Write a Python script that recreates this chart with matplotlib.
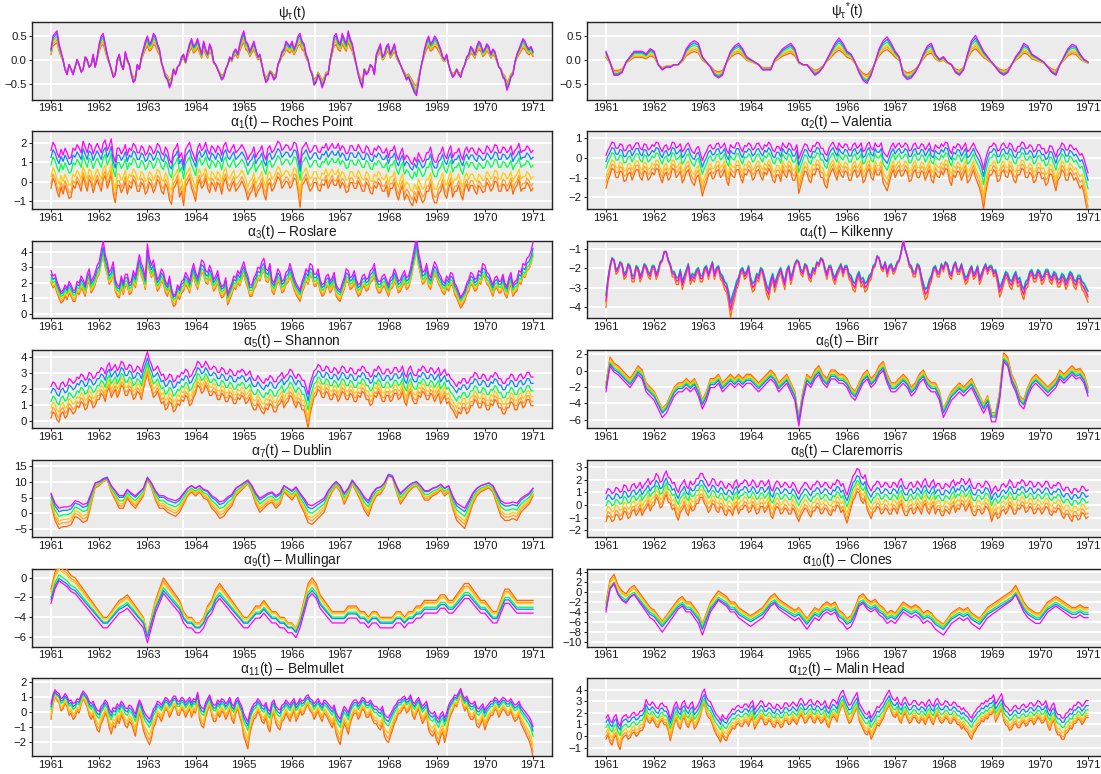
import numpy as np
import matplotlib
matplotlib.use("Agg")
import matplotlib.pyplot as plt

plt.rcParams['font.family'] = ['Liberation Sans', 'DejaVu Sans']
plt.rcParams['mathtext.fontset'] = 'custom'
plt.rcParams['mathtext.rm'] = 'Liberation Sans'
plt.rcParams['mathtext.it'] = 'Liberation Sans'
plt.rcParams['mathtext.default'] = 'regular'

# ---------------- data: values from Jan 1961 to Jan 1971 ----------------
# (half-monthly values for the noisy panels, monthly for the smooth ones)
year_labels = [1961, 1962, 1963, 1964, 1965, 1966, 1967, 1968, 1969, 1970, 1971]
line_colors = ['#FF6600', '#FF9F2E', '#FFCC00', '#00FF4C', '#0A84FF', '#FF00FF']

psi_base = [0.2,0.45,0.5,0.55,0.3,0.15,0.0,-0.2,-0.3,-0.1,-0.2,-0.3,-0.15,0.0,-0.1,-0.25,-0.2,0.05,0.0,-0.15,-0.1,0.1,-0.15,0.05,
            0.3,0.45,0.5,0.3,0.1,-0.05,-0.2,-0.35,-0.3,0.0,0.1,-0.1,-0.2,0.15,0.0,-0.1,-0.3,-0.45,-0.4,-0.1,-0.2,0.05,0.2,0.35,
            0.45,0.3,0.35,0.5,0.45,0.3,0.2,-0.05,-0.2,-0.35,-0.4,-0.55,-0.45,-0.2,-0.3,-0.15,-0.1,0.05,0.1,-0.05,0.15,0.3,0.4,0.25,
            0.3,0.4,0.25,0.1,0.35,0.2,0.1,0.3,0.2,-0.05,-0.1,-0.2,-0.3,-0.4,-0.35,-0.2,-0.1,0.05,0.0,0.15,0.2,0.1,0.3,0.45,
            0.55,0.35,0.3,0.15,0.25,0.35,0.2,0.05,0.1,-0.1,-0.3,-0.45,-0.4,-0.25,-0.3,-0.4,-0.35,-0.1,0.0,0.15,0.2,0.35,0.3,0.25,
            0.35,0.2,0.3,0.45,0.5,0.35,0.3,0.1,0.0,-0.2,-0.3,-0.5,-0.45,-0.3,-0.4,-0.55,-0.45,-0.3,-0.3,0.0,0.2,0.45,0.5,0.35,
            0.3,0.5,0.4,0.3,0.55,0.4,0.3,0.1,-0.1,-0.3,-0.45,-0.55,-0.2,-0.3,-0.25,-0.1,-0.15,-0.3,0.1,0.2,0.3,0.05,0.1,0.25,
            0.3,0.1,0.2,0.3,0.1,0.0,-0.1,-0.2,-0.3,-0.4,-0.35,-0.45,-0.55,-0.65,-0.7,-0.45,-0.2,0.0,0.2,0.35,0.45,0.3,0.35,0.45,
            0.4,0.3,0.2,0.05,0.0,0.1,-0.1,-0.25,-0.35,-0.3,-0.2,-0.3,-0.35,-0.2,-0.1,0.05,0.1,0.25,0.2,0.1,0.25,0.35,0.3,0.15,
            0.2,0.3,0.25,0.1,0.2,0.15,0.0,-0.15,-0.2,-0.35,-0.4,-0.6,-0.5,-0.35,-0.3,-0.05,0.1,0.2,0.3,0.4,0.35,0.25,0.2,0.25,
            0.15]
psi_level = [-0.03, -0.02, -0.01, 0.0, 0.01, 0.02]
psi_gain = [0.72, 0.8, 0.86, 0.92, 1.0, 1.07]

psis_base = [0.15,-0.05,-0.3,-0.3,-0.25,-0.05,0.05,0.15,0.15,0.15,0.1,0.2,
             0.15,-0.1,-0.2,-0.15,-0.15,-0.1,-0.1,0.0,0.2,0.3,0.35,0.3,
             0.05,-0.05,-0.15,-0.3,-0.35,-0.3,-0.05,0.15,0.25,0.3,0.2,0.05,
             0.0,-0.05,-0.1,-0.2,-0.2,-0.2,0.0,0.1,0.2,0.25,0.3,0.2,
             -0.05,-0.1,-0.1,-0.2,-0.3,-0.25,-0.15,0.0,0.15,0.3,0.4,0.3,
             0.15,0.1,-0.05,-0.25,-0.4,-0.45,-0.3,-0.05,0.2,0.35,0.42,0.3,
             0.15,0.05,-0.3,-0.38,-0.35,-0.25,-0.1,0.1,0.25,0.3,0.1,0.0,
             0.05,-0.05,-0.1,-0.25,-0.3,-0.2,0.1,0.35,0.45,0.3,0.15,0.05,
             -0.05,-0.15,-0.25,-0.3,-0.25,-0.1,0.05,0.15,0.3,0.25,0.1,0.05,
             0.0,-0.05,-0.15,-0.25,-0.3,-0.1,0.05,0.2,0.28,0.25,0.1,0.0,
             -0.05]
psis_level = [-0.03, -0.02, -0.02, 0.0, 0.01, 0.02]
psis_gain = [0.6, 0.7, 0.8, 0.9, 1.0, 1.1]

a1_base = [0.0,0.35,0.2,-0.1,-0.3,0.05,-0.2,0.1,-0.1,-0.35,-0.3,0.1,0.0,0.25,0.1,-0.1,0.4,0.15,-0.1,0.3,0.2,-0.15,0.1,0.3,
           0.1,-0.1,0.3,0.45,0.0,0.2,0.5,-0.2,-0.5,0.1,0.1,-0.15,0.0,0.25,-0.2,0.1,0.0,0.3,0.2,-0.1,-0.1,0.2,0.1,-0.2,
           -0.1,0.2,0.1,-0.15,0.0,0.3,0.2,-0.1,-0.2,0.15,0.0,-0.4,-0.55,0.0,0.1,0.3,-0.3,-0.1,-0.6,0.05,0.2,0.35,0.0,-0.2,
           -0.45,0.1,0.3,0.0,0.1,0.35,0.0,-0.15,0.2,0.1,-0.1,0.2,0.1,-0.2,0.2,0.35,0.0,-0.1,0.1,0.25,-0.1,0.0,0.1,0.25,
           0.1,-0.1,-0.4,-0.2,-0.1,0.15,-0.3,-0.1,0.0,0.2,-0.2,-0.4,0.1,0.2,-0.1,0.0,0.2,0.4,0.3,0.0,0.1,0.25,0.2,0.0,
           0.1,0.35,0.3,-0.1,-0.65,0.1,0.2,0.35,0.1,-0.1,0.0,0.2,0.2,-0.05,-0.1,0.15,0.1,0.3,0.0,0.15,0.3,0.1,0.1,0.3,
           0.0,0.2,0.1,-0.15,-0.1,0.2,0.2,0.0,0.0,0.25,0.1,-0.1,-0.1,0.2,0.1,-0.15,-0.2,0.1,0.0,0.2,0.1,-0.1,-0.1,0.1,
           -0.3,0.0,0.0,0.2,-0.2,-0.4,-0.1,0.1,-0.4,-0.2,-0.3,-0.5,-0.6,-0.3,-0.5,-0.1,-0.3,-0.5,-0.4,-0.1,-0.1,0.15,-0.3,-0.5,
           -0.5,-0.2,-0.1,0.15,-0.2,-0.35,0.0,0.2,-0.3,-0.1,-0.1,0.1,-0.2,-0.4,0.0,0.15,-0.1,0.1,0.1,-0.1,-0.2,0.1,0.0,-0.15,
           -0.1,0.2,0.1,-0.1,0.0,0.25,0.2,-0.1,-0.1,0.15,0.1,-0.1,0.0,0.2,-0.2,0.0,0.1,0.3,-0.1,0.0,0.0,0.2,0.1,-0.1,
           0.0]
a1_level = [-0.35, -0.1, 0.25, 0.85, 1.25, 1.6]
a1_gain = [1.5, 1.4, 1.3, 1.2, 1.1, 1.2]

a2_base = [-0.4,-0.1,0.1,0.35,0.3,0.0,0.0,0.25,0.2,-0.15,-0.1,0.15,0.2,-0.1,0.1,0.3,0.3,0.0,-0.1,0.25,0.2,-0.1,0.0,0.2,
           0.1,0.35,0.3,0.0,-0.2,0.1,0.2,-0.1,0.0,0.35,0.3,0.0,0.1,0.25,-0.2,-0.05,0.2,0.3,0.0,-0.2,-0.3,0.0,0.1,-0.3,
           -0.7,-0.4,-0.2,0.1,0.2,-0.05,0.0,0.25,0.3,0.0,0.1,0.3,-0.1,-0.3,0.2,0.05,0.0,0.3,0.3,0.0,-0.2,0.15,0.1,0.3,
           0.2,-0.1,0.0,0.25,0.3,0.05,-0.1,0.2,0.1,0.35,0.2,-0.1,-0.2,0.1,0.1,-0.15,0.3,0.1,0.0,0.3,0.2,-0.1,-0.1,0.2,
           -0.6,-0.3,0.0,0.25,0.2,-0.1,-0.2,0.15,0.1,0.35,0.3,0.0,0.0,-0.3,-0.4,0.0,0.2,0.35,0.1,-0.1,0.3,0.1,0.0,0.25,
           0.2,-0.1,-0.1,0.2,0.3,0.0,0.1,0.3,-0.2,-0.1,0.2,0.35,0.0,-0.1,0.3,0.1,0.1,0.3,-0.2,-0.35,-0.5,-0.2,0.1,0.3,
           0.0,0.2,0.3,0.05,0.1,0.3,0.2,-0.15,-0.1,0.2,0.3,0.0,0.0,0.25,0.2,-0.1,0.1,0.3,-0.1,-0.2,0.2,0.05,0.0,0.25,
           0.1,0.35,0.3,-0.1,-0.3,0.1,0.0,0.25,0.2,-0.1,0.1,0.3,-0.2,-0.1,0.1,0.3,0.0,-0.2,-0.4,-0.7,-1.2,-0.6,-0.2,0.1,
           0.1,0.3,0.2,-0.15,-0.1,0.2,0.3,0.05,0.0,0.3,0.2,-0.1,-0.2,0.1,0.1,0.35,0.3,0.0,0.0,0.2,0.1,-0.2,-0.1,0.2,
           0.2,-0.05,0.0,-0.3,-0.2,0.15,0.1,-0.2,-0.5,-0.1,0.0,0.3,0.2,-0.1,-0.1,0.2,0.1,-0.1,0.0,-0.2,-0.4,-0.3,-0.6,-1.0,
           -1.4]
a2_level = [-1.0, -0.75, -0.5, -0.1, 0.2, 0.5]
a2_gain = [1.35, 1.25, 1.15, 1.05, 0.95, 0.9]

a3_base = [0.5,0.2,0.3,-0.1,-0.4,-0.7,-0.6,-0.3,-0.5,-0.1,-0.3,-0.6,-0.6,-0.1,-0.2,0.2,0.0,-0.3,0.3,0.6,-0.1,0.1,0.4,0.8,
           1.0,1.6,2.2,1.4,1.0,0.4,0.6,1.0,0.0,-0.3,-0.4,0.2,-0.2,0.3,0.3,-0.2,-0.1,0.5,0.2,0.8,1.4,0.9,0.6,0.1,
           2.0,1.2,0.8,1.1,0.5,0.0,0.2,0.6,0.4,-0.1,-0.3,0.2,-0.5,-0.9,-0.8,-0.3,-0.5,-0.1,0.0,0.4,0.2,-0.1,0.5,0.9,
           0.4,0.1,0.6,1.1,1.0,0.5,0.4,0.8,0.5,0.0,0.2,0.5,-0.1,-0.4,-0.3,0.1,-0.8,-0.5,-0.2,0.2,0.1,0.5,0.3,0.7,
           1.0,0.5,0.2,-0.3,-0.3,0.1,0.3,0.7,0.6,1.0,1.2,0.6,0.5,0.9,0.0,-0.2,0.2,0.6,0.4,-0.1,0.0,0.4,0.5,0.9,
           0.5,0.1,-0.2,-0.4,-0.6,-0.1,0.2,0.6,0.4,0.9,0.8,0.3,0.3,0.6,0.0,-0.3,-0.2,0.2,0.3,-0.1,0.1,0.4,-0.3,-0.5,
           -0.6,-0.2,0.1,0.6,0.5,0.1,0.2,0.5,0.0,-0.3,-0.2,0.2,0.3,0.0,0.1,0.5,0.6,0.9,0.2,-0.1,-0.1,0.2,0.3,0.0,
           -0.3,0.1,0.2,0.6,0.3,-0.1,0.0,0.3,0.5,0.1,0.2,0.6,1.2,1.8,2.5,1.5,1.0,0.4,0.5,0.9,0.3,0.1,0.6,1.0,
           0.8,0.4,0.2,-0.1,-0.2,0.2,0.0,0.4,0.3,-0.2,-0.4,-0.7,-1.0,-0.8,-0.6,-0.2,0.0,0.4,0.3,0.0,0.1,0.5,0.4,0.9,
           0.8,0.4,0.3,0.0,-0.3,0.1,0.2,-0.1,-0.1,0.3,-0.2,-0.4,0.1,0.4,-0.3,-0.1,0.0,0.5,0.4,0.9,0.8,1.2,1.3,1.6,
           2.1]
a3_level = [1.45, 1.55, 1.65, 1.8, 2.0, 2.2]
a3_gain = [1.1, 1.05, 1.0, 1.0, 1.05, 1.15]

a4_base = [-1.2,-0.3,0.3,0.7,0.6,0.1,0.2,0.5,0.4,-0.1,0.0,0.4,0.3,-0.2,-0.2,0.3,0.2,-0.2,0.0,0.4,0.3,0.0,-0.1,0.3,
           0.3,-0.1,0.1,0.5,0.6,1.0,1.0,0.6,0.4,0.0,0.0,-0.3,-0.3,0.1,-0.5,-0.2,0.1,0.4,-0.3,-0.1,-0.2,0.1,0.2,-0.2,
           -0.2,0.2,0.3,-0.1,0.2,0.5,-0.1,0.2,0.3,-0.1,-0.2,-0.5,-0.6,-1.0,-1.6,-1.2,-0.9,-0.5,-0.3,0.1,0.2,-0.1,0.0,0.3,
           -0.3,-0.6,-0.5,-0.1,-0.2,0.2,0.1,-0.3,-0.7,-0.9,-0.4,-0.1,-0.6,-0.3,0.0,0.2,-0.2,-0.5,0.1,0.3,-0.3,0.0,0.4,0.6,
           0.5,0.1,0.0,0.4,0.3,-0.1,-0.2,0.2,0.1,0.5,0.4,0.7,0.6,0.2,-0.1,0.3,0.3,-0.1,-0.3,0.0,0.2,0.4,0.0,0.3,
           0.3,-0.1,-0.2,-0.5,-0.6,-0.2,0.0,-0.4,-0.3,-0.6,-0.5,-0.2,-0.1,0.3,0.4,0.8,0.7,0.3,0.2,0.5,0.0,0.3,0.4,0.1,
           0.2,0.5,0.6,1.0,1.5,1.1,0.8,0.4,0.3,0.0,0.0,0.4,0.3,-0.2,-0.6,-0.9,-0.8,-0.4,-0.2,0.2,0.3,0.0,0.0,0.4,
           0.2,0.5,0.4,0.0,-0.1,0.3,0.5,0.1,0.1,0.4,0.0,-0.3,-0.2,0.1,0.3,-0.1,0.0,0.3,-0.3,-0.1,0.2,0.4,0.1,0.3,
           0.3,0.0,0.1,-0.3,-0.8,-0.6,-0.3,0.0,-0.1,-0.4,-0.5,-0.2,0.0,-0.4,-0.3,-0.7,-0.9,-0.5,-0.4,0.0,0.1,-0.2,-0.2,0.1,
           0.0,-0.3,-0.2,0.1,0.1,-0.2,-0.3,0.0,-0.1,-0.4,-0.4,-0.1,-0.2,-0.5,-0.3,0.0,-0.1,-0.4,-0.5,-0.2,-0.2,-0.5,-0.6,-0.8,
           -1.0]
a4_level = [-2.45, -2.35, -2.25, -2.15, -2.2, -2.3]
a4_gain = [1.3, 1.2, 1.1, 1.0, 1.0, 1.15]

a5_base = [-0.8,-0.5,-0.6,-0.9,-1.0,-0.6,-0.5,-0.8,-0.7,-0.3,-0.4,-0.6,-0.5,-0.2,-0.3,0.0,-0.1,-0.4,-0.3,0.1,0.0,-0.3,-0.2,0.1,
           0.1,0.4,0.3,0.0,0.5,0.7,0.2,0.4,0.6,0.2,0.4,0.8,0.7,0.3,0.3,0.6,0.5,0.1,0.2,0.5,0.4,0.1,0.6,1.0,
           1.4,0.9,0.6,0.2,0.3,0.5,0.2,-0.1,0.0,-0.4,-0.3,0.0,-0.1,-0.5,-0.4,-0.1,-0.2,0.1,0.0,0.3,0.2,-0.2,-0.1,0.2,
           0.4,0.8,0.7,0.4,0.5,0.8,0.6,0.3,0.3,0.5,0.4,0.1,0.1,0.4,0.3,0.0,0.0,0.3,0.2,-0.1,-0.1,0.2,0.1,0.3,
           0.2,-0.1,0.0,0.2,-0.2,-0.4,-0.4,-0.1,-0.3,-0.5,-0.6,-0.3,-0.4,-0.1,-0.2,-0.5,-0.5,-0.2,-0.1,0.1,-0.3,-0.1,0.0,0.3,
           0.2,-0.1,-0.3,0.0,-0.1,-0.4,-0.4,-0.8,-1.3,-0.6,-0.2,0.2,0.3,0.6,0.5,0.2,0.2,0.5,0.4,0.1,0.1,0.4,0.3,0.0,
           0.2,0.5,0.4,0.1,0.1,0.4,0.3,0.0,0.0,0.3,0.2,0.5,0.4,0.1,0.1,-0.2,-0.1,0.3,0.2,0.5,0.3,0.0,0.0,0.3,
           0.3,0.0,0.1,0.4,0.4,0.1,0.2,0.5,0.0,-0.2,0.3,0.5,0.1,-0.1,-0.1,0.3,0.2,0.5,0.4,0.1,0.1,0.4,0.3,0.0,
           0.2,0.4,-0.1,0.1,0.3,-0.1,0.0,-0.3,-0.4,-0.6,-0.8,-0.5,-0.6,-0.3,-0.3,-0.6,-0.5,-0.2,-0.2,0.1,0.0,-0.3,-0.3,0.0,
           -0.1,-0.4,-0.4,-0.1,-0.2,0.1,0.0,-0.3,-0.3,-0.6,-0.6,-0.3,-0.3,0.0,-0.1,-0.4,-0.4,-0.1,0.0,-0.3,-0.2,0.1,0.1,-0.2,
           -0.2]
a5_level = [1.2, 1.45, 1.75, 2.1, 2.55, 2.95]
a5_gain = [1.3, 1.25, 1.2, 1.1, 1.0, 1.0]

a6_base = [-2.0,1.0,0.3,0.0,-0.5,-1.0,-1.5,-0.8,0.0,-0.5,-2.0,-2.5,
           -3.0,-4.0,-5.0,-4.5,-3.5,-2.5,-2.0,-2.0,-1.5,-2.0,-1.5,-2.5,
           -4.0,-3.0,-1.5,-1.5,-1.0,-2.0,-1.5,-1.0,-1.5,-1.0,-1.5,-1.0,
           -1.0,-1.5,-2.0,-1.5,-1.0,-0.5,-1.0,-2.0,-1.5,-1.0,-2.0,-3.0,
           -6.0,-3.0,-1.0,-1.5,-0.5,0.0,-1.0,-1.5,-0.5,-0.5,-1.0,-1.0,
           -1.5,-2.5,-3.0,-2.0,-1.0,-0.5,-1.5,-1.0,0.0,0.5,-1.0,-2.0,
           -2.0,-1.5,-1.0,-1.5,-2.5,-2.0,-1.0,-0.5,-1.5,-2.0,-2.0,-3.0,
           -5.0,-4.0,-3.0,-2.5,-2.0,-2.5,-2.0,-1.5,-2.5,-3.5,-4.5,-3.5,
           -5.5,-5.5,-3.0,1.5,1.0,-1.0,-2.0,-3.5,-4.0,-2.5,-1.5,-1.0,
           -1.5,-2.0,-2.5,-2.0,-1.5,-0.5,-1.0,-0.5,0.0,-0.5,-0.3,-1.0,
           -2.5]
a6_level = [0.6, 0.4, 0.2, 0.0, -0.2, -0.5]
a6_gain = [1.05, 1.03, 1.0, 1.0, 1.0, 1.05]

a7_base = [5,1,-1,-0.5,-0.5,0,2,1.5,0.5,1,5,9,
           9.5,10.5,11,8,6,4,4,6.5,5,4,5.5,7,
           11,9,6,4,4,3,2.5,2,3,5,7,8,
           7,8,6.5,6,4,3,1.5,2,3.5,4.5,7,8,
           9,10,8,5,3,4,5,5.5,4,5,8,7,
           6,7.5,5,3,0.5,0,1,2,3,6,8,9.5,
           8,5,7,10,8,6,3.5,2,5,7,7.5,9,
           12,11.5,8,5,6.5,8,9,9.5,8,6,6,7,
           7.5,8.5,7,8,4,1,0,-1,2,5,7,8,
           8.5,9,8,5,2,1,1,1.5,1,3,4,5,
           7]
a7_level = [-3.6, -2.4, -1.4, 0.0, 1.4, 2.4]
a7_gain = [1.3, 1.2, 1.12, 1.0, 0.92, 0.8]

a8_base = [-0.6,-0.2,-0.3,-0.6,-0.5,-0.1,-0.2,-0.5,-0.4,0.1,0.0,-0.4,-0.3,0.1,0.2,-0.2,0.0,0.3,-0.2,0.1,0.3,0.6,0.1,0.4,
           0.5,1.0,0.8,0.3,0.4,0.9,1.2,0.7,0.6,0.2,0.3,-0.2,-0.5,0.0,0.2,0.5,0.0,-0.2,0.4,0.1,0.2,0.6,0.6,1.0,
           1.0,0.6,0.4,0.0,0.2,0.6,0.5,0.1,0.0,0.4,0.3,-0.1,-0.2,0.2,0.1,-0.2,0.3,0.5,-0.1,0.2,0.2,0.5,0.4,0.0,
           0.1,0.5,0.3,-0.1,0.0,0.4,0.4,0.0,0.2,0.5,-0.2,-0.4,0.1,0.4,0.3,-0.1,0.0,0.3,0.2,-0.1,-0.1,0.3,0.1,-0.3,
           -0.6,-0.2,0.0,0.3,0.2,-0.1,-0.3,0.1,0.1,0.4,0.3,-0.1,0.0,0.3,0.2,-0.1,-0.2,0.2,0.1,0.5,0.4,0.0,0.2,-0.3,
           -0.7,-0.2,0.3,0.8,1.0,1.4,1.3,0.8,0.6,0.9,0.2,-0.1,-0.4,0.0,0.1,0.4,0.3,-0.1,0.0,0.3,0.2,-0.1,-0.1,0.3,
           0.2,-0.1,0.4,0.6,0.1,-0.2,-0.2,0.2,0.3,-0.1,0.0,0.4,0.2,-0.1,0.4,0.6,0.1,-0.1,0.3,0.5,-0.1,0.2,0.2,-0.2,
           -0.2,0.2,0.1,-0.1,0.3,0.5,0.0,0.3,0.2,0.6,0.5,0.1,0.3,0.6,0.1,-0.2,-0.2,0.2,0.2,-0.1,0.0,0.4,0.3,0.0,
           -0.6,-0.2,0.0,-0.4,-0.3,0.1,0.2,-0.1,0.1,0.5,0.3,-0.1,-0.1,0.3,0.2,0.5,0.4,0.0,0.1,0.4,0.3,-0.1,0.0,0.3,
           0.2,-0.1,0.1,0.4,0.3,-0.1,-0.2,0.1,0.0,0.3,0.2,-0.2,-0.4,-0.1,-0.1,-0.4,-0.6,-0.2,-0.2,-0.5,-0.4,0.0,-0.1,-0.4,
           -0.3]
a8_level = [-0.6, -0.3, 0.1, 0.55, 1.0, 1.5]
a8_gain = [1.2, 1.15, 1.1, 1.0, 0.95, 1.0]

a9_base = [-2.0,-0.5,0.3,0.0,-0.3,-0.8,-1.0,-1.5,-2.0,-2.5,-3.0,-3.5,
           -4.0,-4.5,-4.5,-4.0,-3.5,-3.0,-2.8,-2.5,-3.0,-3.5,-4.0,-4.5,
           -6.0,-4.5,-3.0,-2.0,-1.0,-1.5,-2.0,-2.5,-3.0,-4.0,-4.5,-4.5,
           -5.0,-5.0,-4.5,-3.5,-3.0,-2.0,-1.5,-2.0,-2.5,-3.0,-3.5,-4.0,
           -4.5,-4.5,-4.0,-3.5,-3.5,-3.0,-3.5,-4.0,-4.0,-4.5,-4.5,-5.0,
           -5.0,-5.5,-4.5,-3.0,-1.5,-1.0,-1.5,-2.5,-3.0,-3.5,-4.0,-4.0,
           -4.0,-4.0,-3.5,-3.5,-3.5,-4.0,-4.0,-4.5,-4.0,-4.0,-4.5,-4.5,
           -4.5,-4.5,-4.0,-4.0,-4.5,-4.0,-4.0,-3.5,-3.5,-3.0,-3.0,-3.0,
           -3.0,-2.5,-2.5,-3.0,-3.0,-2.5,-2.0,-1.5,-1.5,-2.0,-2.5,-3.0,
           -3.0,-3.5,-4.0,-4.0,-3.0,-2.0,-2.0,-2.5,-3.0,-3.0,-3.0,-3.0,
           -3.0]
a9_level = [1.15, 0.8, 0.55, 0.0, -0.35, -0.6]
a9_gain = [1.15, 1.1, 1.05, 1.0, 0.95, 1.0]

a10_base = [-3.0,1.0,2.0,0.0,-1.0,-1.5,-0.5,0.0,-1.0,-2.0,-3.0,-4.0,
            -4.5,-5.5,-6.5,-5.5,-4.5,-3.5,-2.5,-2.0,-3.0,-3.0,-4.0,-5.0,
            -7.0,-5.0,-3.0,-2.0,-1.0,-1.5,-2.0,-3.0,-3.0,-4.0,-4.5,-5.0,
            -5.5,-5.0,-4.5,-4.0,-3.0,-2.0,-1.5,-2.5,-3.0,-3.5,-4.0,-4.5,
            -4.0,-5.0,-6.0,-5.0,-4.0,-4.5,-3.5,-3.0,-3.5,-3.0,-4.5,-5.0,
            -6.0,-5.5,-4.0,-2.0,-1.5,-2.5,-3.0,-2.5,-3.5,-4.0,-5.0,-4.5,
            -5.0,-4.0,-3.0,-3.5,-4.0,-3.5,-4.0,-5.0,-4.5,-5.0,-6.0,-6.5,
            -7.0,-6.0,-5.0,-4.5,-4.0,-4.5,-4.0,-5.0,-5.5,-6.0,-5.0,-4.0,
            -3.5,-3.0,-2.5,-2.0,-1.5,-1.0,0.0,-1.5,-3.0,-4.0,-4.5,-5.0,
            -5.0,-4.0,-3.0,-2.5,-2.0,-2.5,-3.0,-3.5,-4.0,-4.0,-3.5,-4.0,
            -4.0]
a10_level = [1.35, 0.875, 0.675, 0.0, -0.4, -0.475]
a10_gain = [1.1, 1.05, 1.05, 1.0, 1.0, 1.15]

a11_base = [0.2,0.9,1.3,1.1,1.0,0.6,0.7,1.0,0.8,0.4,0.5,0.2,0.3,0.6,0.5,0.9,1.2,1.0,0.8,0.4,0.2,0.4,0.0,-0.3,
            -0.4,0.0,0.2,0.5,0.3,-0.2,-0.5,-0.1,-0.2,0.2,0.0,0.4,0.2,-0.1,-0.2,0.1,0.0,-0.3,-0.6,0.0,0.5,0.2,-0.3,-0.6,
            -0.8,-1.0,-0.7,-0.2,0.0,0.4,0.3,0.1,0.4,0.7,0.6,0.3,0.5,0.8,0.8,0.4,0.4,0.7,0.6,0.3,0.5,0.7,0.3,0.6,
            0.5,1.1,0.2,-0.1,-0.2,0.3,0.6,0.9,0.4,0.1,0.1,0.5,0.3,0.6,0.5,0.2,0.4,0.7,0.2,0.0,0.5,0.7,0.3,0.0,
            -0.6,-0.9,-1.2,-0.5,-0.1,0.2,0.3,0.6,0.4,0.1,0.0,0.3,-0.2,-0.4,0.3,0.5,0.0,-0.2,-0.3,0.1,0.2,0.5,0.3,0.1,
            0.4,0.6,0.1,0.3,0.6,0.4,0.5,0.8,0.9,0.6,0.5,0.2,0.4,0.6,0.3,0.1,0.5,0.4,0.2,0.0,-0.2,0.1,-0.5,-0.8,
            -1.0,-0.4,0.0,-0.2,-0.5,0.0,0.3,0.5,0.5,0.2,0.4,0.7,0.6,0.3,0.3,0.5,0.2,0.0,0.0,-0.2,-0.3,0.0,-0.6,-0.8,
            -0.9,-0.6,-0.3,0.0,0.2,0.5,0.5,0.7,0.8,0.5,0.6,0.9,0.4,0.2,0.5,0.7,0.3,0.0,0.2,0.4,-0.3,-0.5,-0.6,-0.4,
            -0.8,-1.0,-0.6,-0.4,-0.9,-0.5,0.1,0.4,0.6,0.9,0.8,1.1,1.4,0.9,0.6,0.8,0.4,0.2,0.2,0.4,-0.1,-0.2,0.0,0.2,
            -0.3,0.0,0.2,0.4,0.4,0.7,0.6,0.3,0.5,0.7,0.6,0.4,0.4,0.6,0.3,0.1,0.2,0.4,0.0,-0.2,-0.4,-0.6,-0.8,-1.1,
            -1.6]
a11_level = [-0.75, -0.55, -0.35, 0.0, 0.2, 0.4]
a11_gain = [1.4, 1.3, 1.15, 1.0, 0.9, 0.85]

a12_base = [-0.9,-0.6,-1.1,-1.3,-0.8,-0.6,-1.3,-1.6,-0.9,-0.7,-0.6,-0.9,-0.8,-0.5,-0.4,-0.7,-0.6,-0.3,-0.3,0.0,0.7,0.3,0.2,0.5,
            0.3,0.0,-0.1,0.3,0.4,0.1,0.1,-0.3,-1.0,-0.4,0.2,0.5,0.0,-0.2,0.4,0.6,0.1,-0.1,0.3,0.5,-0.2,0.0,0.3,0.7,
            1.3,1.6,0.9,0.6,0.5,0.1,-0.3,-0.6,-0.8,-1.1,-0.6,-0.9,-1.0,-0.6,-0.4,-0.1,-0.2,0.1,0.2,0.0,0.0,0.3,0.3,0.0,
            0.4,0.6,-0.2,0.1,0.3,0.6,0.5,0.1,0.1,0.4,0.3,0.0,-0.1,0.3,0.2,-0.1,0.0,0.4,0.4,0.1,0.2,0.5,0.3,0.1,
            0.5,0.8,0.6,0.2,0.3,0.6,0.7,0.3,0.2,0.6,0.5,0.2,0.3,0.6,0.1,-0.1,0.4,0.7,0.6,0.3,0.9,1.3,1.5,1.0,
            0.6,0.2,0.3,0.7,1.0,1.3,0.4,0.1,-0.2,-0.5,-0.6,-0.3,-0.9,-0.6,-0.3,0.1,0.0,0.3,0.5,0.9,1.2,1.5,1.0,0.7,
            0.6,0.9,0.4,0.2,0.7,0.9,0.5,0.2,0.3,0.6,0.6,0.3,0.2,0.5,0.4,0.1,0.5,0.7,0.3,0.1,0.6,0.8,0.4,0.2,
            0.3,0.6,0.5,0.2,0.2,0.5,0.4,0.1,0.1,-0.2,0.0,-0.3,-0.4,-0.7,-0.9,-0.5,-0.3,0.0,0.1,0.4,0.3,0.6,0.5,0.8,
            0.8,1.1,0.3,0.6,0.9,1.2,0.4,0.1,0.0,-0.3,-0.2,0.1,0.2,-0.1,-0.1,0.2,0.3,0.0,0.1,0.4,0.4,0.1,0.3,0.6,
            0.5,0.2,0.3,0.6,0.0,-0.3,0.2,0.4,-0.3,-0.6,-0.6,-0.9,-0.9,-0.5,-0.4,-0.1,-0.2,0.2,0.2,0.5,0.4,0.1,0.3,0.6,
            0.6]
a12_level = [0.85, 1.05, 1.3, 1.65, 2.05, 2.45]
a12_gain = [1.25, 1.2, 1.1, 1.0, 0.95, 1.0]

titles = [r'$\psi_{\tau}(t)$', r'$\psi_{\tau}{}^{*}(t)$',
          r'$\alpha_{1}(t)$ – Roches Point', r'$\alpha_{2}(t)$ – Valentia',
          r'$\alpha_{3}(t)$ – Roslare', r'$\alpha_{4}(t)$ – Kilkenny',
          r'$\alpha_{5}(t)$ – Shannon', r'$\alpha_{6}(t)$ – Birr',
          r'$\alpha_{7}(t)$ – Dublin', r'$\alpha_{8}(t)$ – Claremorris',
          r'$\alpha_{9}(t)$ – Mullingar', r'$\alpha_{10}(t)$ – Clones',
          r'$\alpha_{11}(t)$ – Belmullet', r'$\alpha_{12}(t)$ – Malin Head']

panel_series = [(psi_base, psi_level, psi_gain), (psis_base, psis_level, psis_gain),
                (a1_base, a1_level, a1_gain), (a2_base, a2_level, a2_gain),
                (a3_base, a3_level, a3_gain), (a4_base, a4_level, a4_gain),
                (a5_base, a5_level, a5_gain), (a6_base, a6_level, a6_gain),
                (a7_base, a7_level, a7_gain), (a8_base, a8_level, a8_gain),
                (a9_base, a9_level, a9_gain), (a10_base, a10_level, a10_gain),
                (a11_base, a11_level, a11_gain), (a12_base, a12_level, a12_gain)]

ylims = [(-0.81, 0.79), (-0.81, 0.79), (-1.41, 2.58), (-2.6, 1.36),
         (-0.3, 4.7), (-4.57, -0.6), (-0.45, 4.45), (-7.0, 2.5),
         (-7.6, 17.1), (-2.55, 3.6), (-7.0, 0.9), (-10.8, 4.6),
         (-2.9, 2.26), (-1.7, 4.96)]
yticks = [[-0.5, 0.0, 0.5], [-0.5, 0.0, 0.5], [-1, 0, 1, 2], [-2, -1, 0, 1],
          [0, 1, 2, 3, 4], [-4, -3, -2, -1], [0, 1, 2, 3, 4], [-6, -4, -2, 0, 2],
          [-5, 0, 5, 10, 15], [-2, -1, 0, 1, 2, 3], [-6, -4, -2, 0],
          [-10, -8, -6, -4, -2, 0, 2, 4], [-2, -1, 0, 1, 2], [-1, 0, 1, 2, 3, 4]]

# ---------------- figure ----------------
W, H = 1101, 774
fig = plt.figure(figsize=(W / 100, H / 100), dpi=100)
grid_x = 1961 + np.array([0, 1000, 2000, 3000]) / 365.25

for p in range(14):
    row, col = divmod(p, 2)
    left_px = 32 if col == 0 else 587
    top_px = 22 + 109.4 * row
    h_px = 77.5
    ax = fig.add_axes([left_px / W, 1 - (top_px + h_px) / H, 520 / W, h_px / H])
    ax.set_facecolor('#EBEBEB')
    base, level, gain = panel_series[p]
    b = np.array(base, dtype=float)
    x = np.linspace(1961, 1971, len(b))
    for k in range(6):
        ax.plot(x, level[k] + gain[k] * b, color=line_colors[k], lw=0.9, zorder=3)
    for gx in grid_x:
        ax.axvline(gx, color='white', lw=1.4, zorder=1)
    ax.set_yticks(yticks[p])
    if p < 2:
        ax.set_yticklabels(['\u22120.5', '0.0', '0.5'])
    ax.yaxis.grid(True, color='white', lw=1.4, zorder=1)
    ax.set_axisbelow(True)
    ax.set_ylim(*ylims[p])
    ax.set_xlim(1960.606, 1971.394)
    ax.set_xticks(year_labels)
    ax.set_xticklabels([str(v) for v in year_labels])
    ax.tick_params(axis='both', labelsize=8.2, length=2.2, width=0.7,
                   colors='#1a1a1a', pad=1.5)
    ax.tick_params(axis='x', pad=0.6)
    for s in ax.spines.values():
        s.set_color('#222222')
        s.set_linewidth(1.0)
    ax.set_title(titles[p], fontsize=9.8, pad=1.2, color='#1a1a1a')

fig.savefig('out.png', dpi=100)
